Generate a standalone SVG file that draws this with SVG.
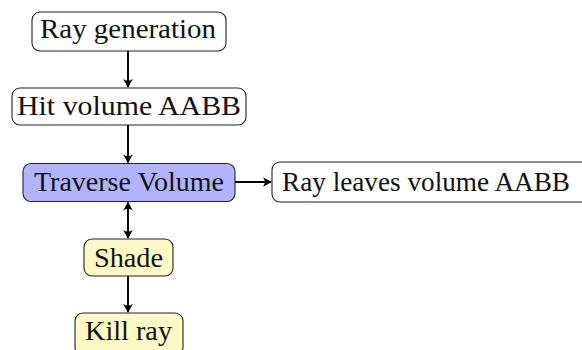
<svg xmlns="http://www.w3.org/2000/svg" width="582" height="350" viewBox="0 0 582 350">
  <defs>
    <!-- concave arrow tip, oriented along the path -->
    <marker id="tip" viewBox="-9 -6 11 12" refX="0" refY="0" markerWidth="11" markerHeight="12" markerUnits="userSpaceOnUse" orient="auto-start-reverse">
      <path d="M0.8,0 L-8,-4.8 Q-4.5,0 -8,4.8 Z" fill="#000"/>
    </marker>
  </defs>
  <style>
    .box { stroke: #222; stroke-width: 1.1; fill: #fff; }
    .blue { fill: #b3b3ff; }
    .yellow { fill: #fff9c6; }
    .label { font-family: "Liberation Serif", "Times New Roman", serif; font-size: 27px; fill: #111; text-anchor: middle; }
    .edge { stroke: #000; stroke-width: 1.9; fill: none; }
  </style>
  <rect width="582" height="350" fill="#fff"/>

  <g id="connectors">
    <line class="edge" x1="128" y1="51" x2="128" y2="87" marker-end="url(#tip)"/>
    <line class="edge" x1="128" y1="125" x2="128" y2="162.5" marker-end="url(#tip)"/>
    <line class="edge" x1="235" y1="182" x2="271" y2="182" marker-end="url(#tip)"/>
    <line class="edge" x1="128" y1="202.5" x2="128" y2="238" marker-start="url(#tip)" marker-end="url(#tip)"/>
    <line class="edge" x1="128" y1="276" x2="128" y2="312" marker-end="url(#tip)"/>
  </g>

  <g id="ray-generation">
    <rect class="box" x="32" y="12" width="194" height="39" rx="8"/>
    <text class="label" x="128" y="38" textLength="176" lengthAdjust="spacingAndGlyphs">Ray generation</text>
  </g>

  <g id="hit-volume">
    <rect class="box" x="12" y="88" width="234" height="37" rx="8"/>
    <text class="label" x="129" y="115" textLength="224" lengthAdjust="spacingAndGlyphs">Hit volume AABB</text>
  </g>

  <g id="traverse-volume">
    <rect class="box blue" x="23" y="163.5" width="212" height="38" rx="8"/>
    <text class="label" x="129" y="190.5" textLength="190" lengthAdjust="spacingAndGlyphs">Traverse Volume</text>
  </g>

  <g id="ray-leaves">
    <rect class="box" x="272" y="162" width="320" height="40" rx="8"/>
    <text class="label" x="426" y="190.5" textLength="288" lengthAdjust="spacingAndGlyphs">Ray leaves volume AABB</text>
  </g>

  <g id="shade">
    <rect class="box yellow" x="84" y="239" width="89" height="37" rx="8"/>
    <text class="label" x="128.5" y="267" textLength="69" lengthAdjust="spacingAndGlyphs">Shade</text>
  </g>

  <g id="kill-ray">
    <rect class="box yellow" x="75" y="313" width="108" height="42" rx="8"/>
    <text class="label" x="128.5" y="339.5" textLength="87" lengthAdjust="spacingAndGlyphs">Kill ray</text>
  </g>
</svg>
